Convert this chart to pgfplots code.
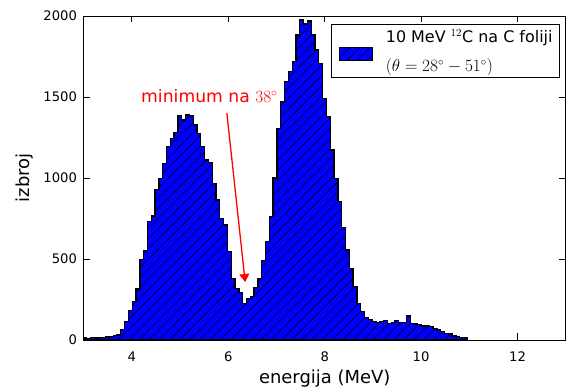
\documentclass[border=0pt]{standalone}
\usepackage[no-math]{fontspec}
\setmainfont{DejaVu Sans}
\usepackage{pgfplots}
\usepackage{pgfplotstable}
\pgfplotsset{compat=1.18}
\usetikzlibrary{patterns.meta,arrows.meta}
\definecolor{mplblue}{rgb}{0,0,1}
\definecolor{mplred}{rgb}{1,0,0}

\pgfplotstableread{
x y
2.980 12
3.059 10
3.138 14
3.217 12
3.296 15
3.375 16
3.454 18
3.533 22
3.612 26
3.691 31
3.770 66
3.849 113
3.928 181
4.007 239
4.086 315
4.165 498
4.244 551
4.323 730
4.402 765
4.481 930
4.560 996
4.639 1091
4.718 1193
4.797 1245
4.876 1280
4.955 1385
5.034 1358
5.113 1389
5.192 1383
5.271 1327
5.350 1276
5.429 1193
5.508 1111
5.587 1095
5.666 967
5.745 864
5.824 751
5.903 710
5.982 545
6.061 381
6.140 319
6.219 292
6.298 226
6.377 257
6.456 267
6.535 324
6.614 381
6.693 489
6.772 607
6.851 761
6.930 1000
7.009 1307
7.088 1471
7.167 1595
7.246 1656
7.325 1718
7.404 1883
7.483 1975
7.562 1950
7.641 1970
7.720 1883
7.799 1790
7.878 1708
7.957 1492
8.036 1379
8.115 1173
8.194 998
8.273 854
8.352 695
8.431 556
8.510 442
8.589 329
8.668 226
8.747 175
8.826 138
8.905 128
8.984 113
9.063 109
9.142 113
9.221 119
9.300 103
9.379 106
9.458 119
9.537 109
9.616 106
9.695 148
9.774 103
9.853 99
9.932 95
10.011 86
10.090 86
10.169 82
10.248 72
10.327 62
10.406 51
10.485 41
10.564 41
10.643 25
10.722 20
10.801 15
10.880 15
10.959 15
}\histdata

\begin{document}
\begin{tikzpicture}
\begin{axis}[
  at={(0,0)}, anchor=south west,
  scale only axis, width=482bp, height=324bp,
  xmin=3, xmax=13, ymin=0, ymax=2000,
  xtick={4,6,8,10,12}, ytick={0,500,1000,1500,2000},
  minor tick num=0,
  tick align=inside, major tick length=6.5bp,
  axis line style={line width=0.9bp, black},
  every tick/.style={line width=0.9bp, black},
  /pgf/number format/assume math mode=true,
  /pgf/number format/1000 sep={},
  scaled y ticks=false,
  ticklabel style={font=\fontsize{13.2}{15}\selectfont},
  xticklabel style={anchor=base, yshift=-21.3bp},
  yticklabel style={anchor=east, xshift=-3.3bp},
  xlabel={energija (MeV)}, ylabel={izbroj},
  label style={font=\fontsize{18}{21}\selectfont},
  xlabel style={at={(axis description cs:0.5,0)}, anchor=base, yshift=-43bp},
  ylabel style={at={(axis description cs:-0.122,0.5)}, anchor=center},
  legend style={at={(rel axis cs:0.9882,0.9744)}, anchor=north east,
    draw=black, line width=0.9bp, fill=white,
    font=\fontsize{16}{20}\selectfont,
    inner xsep=7bp, inner ysep=4.5bp,
    column sep=0pt,
    nodes={inner sep=0pt},
    cells={anchor=west, align=left}},
  legend image code/.code={%
    \draw[#1] (0bp,-9.5bp) rectangle (33bp,3.5bp);
    \path (46bp,0bp);},
]
\addplot[const plot, draw=black, line width=1.3bp, fill=mplblue,
  postaction={pattern={Lines[angle=45,distance=7.2bp,line width=0.55bp]}, pattern color=black}]
  table[x=x,y=y] {\histdata} \closedcycle;
\addlegendentry{10 MeV $^{12}$C na C foliji\\[9.5bp]$(\theta=28^\circ-51^\circ)$}
\node[anchor=base west, text=mplred, font=\fontsize{17.3}{20}\selectfont]
  at (axis cs:4.12,1465) {minimum na $38^\circ$};
\draw[mplred, line width=1.3bp, -{Triangle[length=8bp,width=10bp]}]
  (axis cs:5.97,1401) -- (axis cs:6.35,358);
\end{axis}
\pgfresetboundingbox
\path (-83.7bp,-47bp) rectangle (483.3bp,340bp);
\end{tikzpicture}
\end{document}
